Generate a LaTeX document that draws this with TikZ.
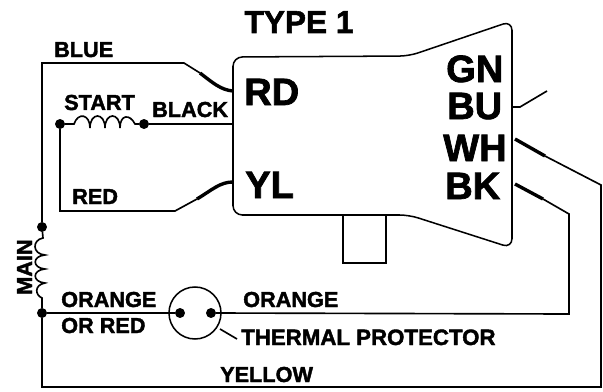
\documentclass[tikz,border=0pt]{standalone}
\usepackage{fontspec}
\setmainfont[BoldFeatures={FakeBold=1.8}]{Liberation Sans}
\tikzset{
    wire/.style={line width=1.4pt},
    heavy/.style={line width=2.9pt},
    mid/.style={line width=2.2pt},
    thin wire/.style={line width=1.3pt},
    dot/.style={circle, fill=black, inner sep=0pt, minimum size=8.5pt},
    small/.style={font=\fontsize{18.5}{19}\bfseries\selectfont, inner sep=0pt, anchor=base west},
    big/.style={font=\fontsize{32.5}{34}\bfseries\selectfont, inner sep=0pt, anchor=base west},
}

\begin{document}
\begin{tikzpicture}[x=0.03cm, y=-0.03cm]
    \useasboundingbox (0, 0) rectangle (603, 392);

    % motor body
    \draw[thin wire, rounded corners=8pt] (233, 57) -- (233, 215) -- (343, 215) -- (409, 215)
        -- (512, 248) -- (512, 21) -- (409, 56) -- cycle;
    \draw[thin wire] (343, 215) -- (343, 263) -- (386, 263) -- (386, 215);

    % terminals
    \coordinate (rd) at (233, 91);
    \coordinate (blk) at (233, 124);
    \coordinate (yl) at (233, 182);
    \coordinate (bu) at (513, 107);
    \coordinate (wh) at (515, 139);
    \coordinate (bk) at (515, 184);

    % junctions
    \node[dot] (startl) at (60, 124) {};
    \node[dot] (startr) at (144, 124) {};
    \node[dot] (maintop) at (42, 227) {};
    \node[dot] (mainbot) at (42, 313) {};

    % main winding and its wires
    \coordinate (blue) at (42, 63);
    \draw[wire] (maintop) -- (blue) -- (184, 63) -- (200, 73);
    \draw[heavy] (200, 73) .. controls (213, 83) and (221, 90) .. (rd);
    \draw[wire] (maintop) -- (43, 238)
        .. controls (32, 240) and (32, 254) .. (45, 255)
        .. controls (32, 256) and (32, 268) .. (45, 269)
        .. controls (32, 270) and (32, 282) .. (45, 283)
        .. controls (34, 285) and (35, 295) .. (42, 298) -- (mainbot);

    % start winding
    \draw[wire] (startl) -- (74, 124)
        .. controls (78, 112) and (90, 114) .. (90, 128)
        .. controls (90, 112) and (105, 112) .. (105, 128)
        .. controls (105, 112) and (120, 112) .. (120, 128)
        .. controls (120, 114) and (130, 114) .. (135, 124) -- (startr);
    \draw[mid] (startr) -- (blk);

    % red wire
    \draw[mid] (startl) -- (60, 211) -- (116, 211);
    \draw[wire] (116, 211) -- (175, 211) -- (197, 199);
    \draw[heavy] (197, 199) .. controls (212, 190) and (220, 182) .. (yl);

    % thermal protector
    \node[circle, draw, line width=1.3pt, minimum size=52*0.03cm, inner sep=0pt] (prot) at (195, 313) {};
    \node[dot] (protl) at (180, 313) {};
    \node[dot] (protr) at (211, 313) {};
    \coordinate (protlead) at (237, 339);
    \draw[mid] (mainbot) -- (protl);
    \draw[wire] (220, 329) -- (protlead);

    % orange and yellow wires
    \draw[wire] (protr) -- (569, 314) -- (569, 214) -- (543, 199);
    \draw[heavy] (543, 199) -- (bk);
    \draw[wire] (mainbot) -- (42, 387) -- (601, 387) -- (601, 185) -- (545, 156);
    \draw[heavy] (545, 156) -- (wh);
    \draw[wire] (bu) -- (520, 107) -- (547, 91);

    % labels
    \node[font=\fontsize{27}{28}\bfseries\selectfont, inner sep=0pt, anchor=base] (title) at (299, 33) {TYPE 1};
    \node[big] (lrd) at (244, 105) {RD};
    \node[big] (lyl) at (245, 198) {YL};
    \node[big] (lgn) at (446, 82) {GN};
    \node[big] (lbu) at (447, 119) {BU};
    \node[big] (lwh) at (443, 161) {WH};
    \node[big] (lbk) at (445, 199) {BK};
    \node[small] (lblue) at (54, 57) {BLUE};
    \node[small] (lstart) at (64, 110) {START};
    \node[small] (lblack) at (152, 117) {BLACK};
    \node[small] (lred) at (72, 204) {RED};
    \node[small, rotate=90] (lmain) at (32, 295) {MAIN};
    \node[small] (lorange) at (61, 307) {ORANGE};
    \node[small] (lorred) at (61, 333) {OR RED};
    \node[small] (lorangeb) at (243, 307) {ORANGE};
    \node[small, font=\fontsize{19}{20}\bfseries\selectfont] (lthermal) at (241, 345) {THERMAL PROTECTOR};
    \node[small] (lyellow) at (220, 382) {YELLOW};
\end{tikzpicture}
\end{document}
